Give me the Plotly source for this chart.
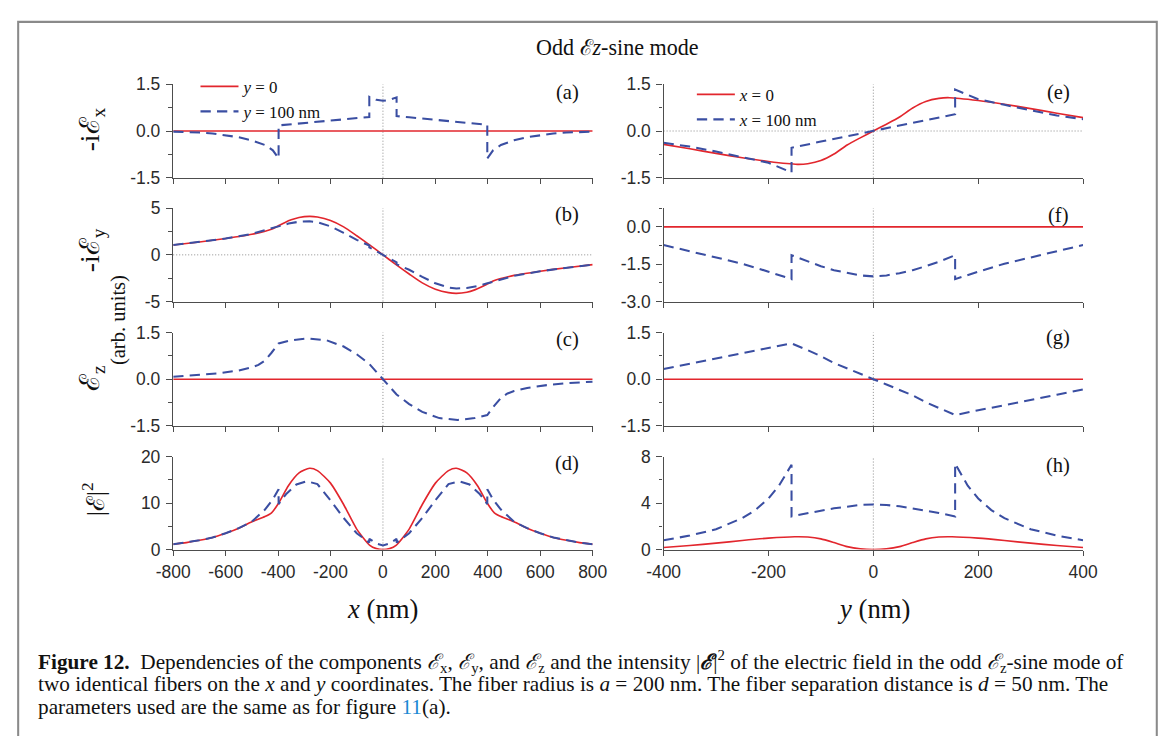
import plotly.graph_objects as go

# Measured on earlier renders: screen = OX + S0 * (8 + figure_px)  (8 = page body margin)
W, H = 1180, 738
S0 = 0.9741
OX, OY = 7.5, 1.3
def px(x): return ((x - OX) / S0 - 8) / W
def py(y): return 1 - ((y - OY) / S0 - 8) / H
def sz(v): return v / S0

RED = '#e2262d'
BLUE = '#3a4ea2'
AXC = '#4d4d4d'
TXT = '#2b2b2b'
SERIF = 'Liberation Serif, DejaVu Serif, serif'
SANS = 'Liberation Sans, Arial, sans-serif'

# ---------------- data: left column, x coordinate (nm) ----------------
# (a) -i E_x
a_red_x = [-800, -400, 0, 400, 800]
a_red_y = [0, 0, 0, 0, 0]
a_blue_x = [-800, -750, -700, -650, -600, -550, -500, -450, -420, -398, -398, -300, -200, -100, -52, -52,
            -25, 0, 25, 52, 52, 100, 200, 300, 398, 398, 420, 450, 500, 550, 600, 650, 700, 750, 800]
a_blue_y = [-0.02, -0.03, -0.05, -0.08, -0.13, -0.2, -0.3, -0.45, -0.62, -0.88, 0.18, 0.26, 0.34, 0.42, 0.45, 1.1,
            1.0, 0.97, 1.0, 1.08, 0.48, 0.44, 0.36, 0.28, 0.2, -0.88, -0.62, -0.45, -0.3, -0.2, -0.13, -0.08, -0.05, -0.03, -0.02]

# (b) -i E_y
b_red_x = [-800, -700, -600, -500, -425, -400, -375, -350, -320, -280, -250, -200, -150, -100, -50, 0,
           50, 100, 150, 200, 250, 280, 320, 350, 375, 400, 425, 500, 600, 700, 800]
b_red_y = [1.05, 1.38, 1.75, 2.2, 2.75, 3.1, 3.45, 3.75, 4.0, 4.12, 4.05, 3.68, 3.0, 2.05, 1.05, 0,
           -1.05, -2.05, -3.0, -3.68, -4.05, -4.12, -4.0, -3.75, -3.45, -3.1, -2.75, -2.2, -1.75, -1.38, -1.05]
b_blue_x = [-800, -700, -600, -500, -450, -425, -398, -360, -320, -280, -250, -200, -150, -100, -52, -52, 0,
            52, 52, 100, 150, 200, 250, 280, 320, 360, 398, 425, 450, 500, 600, 700, 800]
b_blue_y = [1.05, 1.38, 1.75, 2.25, 2.6, 2.85, 3.05, 3.35, 3.55, 3.6, 3.5, 3.05, 2.35, 1.6, 1.0, 0.8, 0,
            -0.8, -1.0, -1.6, -2.35, -3.05, -3.5, -3.6, -3.55, -3.35, -3.05, -2.85, -2.6, -2.25, -1.75, -1.38, -1.05]

# (c) E_z
c_red_x = [-800, -400, 0, 400, 800]
c_red_y = [0, 0, 0, 0, 0]
c_blue_x = [-800, -700, -625, -550, -500, -475, -450, -425, -398, -350, -285, -215, -150, -100, -52, 0,
            52, 100, 150, 215, 285, 350, 398, 425, 450, 475, 500, 550, 625, 700, 800]
c_blue_y = [0.08, 0.13, 0.19, 0.28, 0.38, 0.46, 0.6, 0.85, 1.15, 1.25, 1.31, 1.25, 1.05, 0.8, 0.49, 0,
            -0.49, -0.8, -1.05, -1.25, -1.31, -1.25, -1.15, -0.85, -0.6, -0.46, -0.38, -0.28, -0.19, -0.13, -0.08]

# (d) |E|^2
d_red_x = [-800, -750, -700, -650, -600, -550, -500, -450, -425, -400, -360, -320, -280, -250, -200, -150, -100, -50, -25, 0,
           25, 50, 100, 150, 200, 250, 280, 320, 360, 400, 425, 450, 500, 550, 600, 650, 700, 750, 800]
d_red_y = [1.15, 1.5, 2.0, 2.6, 3.5, 4.6, 6.0, 7.1, 7.9, 9.8, 13.8, 16.5, 17.5, 17.0, 14.3, 9.7, 4.4, 0.9, 0.2, 0,
           0.2, 0.9, 4.4, 9.7, 14.3, 17.0, 17.5, 16.5, 13.8, 9.8, 7.9, 7.1, 6.0, 4.6, 3.5, 2.6, 2.0, 1.5, 1.15]
d_blue_x = [-800, -750, -700, -650, -600, -550, -500, -450, -420, -398, -398, -370, -330, -290, -250, -200, -150, -100, -52, -52,
            -25, 0, 25, 52, 52, 100, 150, 200, 250, 290, 330, 370, 398, 398, 420, 450, 500, 550, 600, 650, 700, 750, 800]
d_blue_y = [1.15, 1.5, 2.0, 2.6, 3.5, 4.6, 6.0, 8.6, 10.8, 13.0, 9.8, 11.9, 14.0, 14.7, 14.1, 10.6, 6.8, 3.5, 1.5, 2.3,
            1.3, 0.9, 1.3, 2.3, 1.5, 3.5, 6.8, 10.6, 14.1, 14.7, 14.0, 11.9, 9.8, 13.0, 10.8, 8.6, 6.0, 4.6, 3.5, 2.6, 2.0, 1.5, 1.15]

# ---------------- data: right column, y coordinate (nm) ----------------
# (e) -i E_x
e_red_x = [-400, -350, -300, -250, -200, -145, -125, -100, -75, -50, -25, 0,
           25, 50, 75, 100, 125, 145, 200, 250, 300, 350, 400]
e_red_y = [-0.43, -0.57, -0.72, -0.86, -0.98, -1.07, -1.05, -0.95, -0.74, -0.45, -0.22, 0,
           0.22, 0.45, 0.74, 0.95, 1.05, 1.07, 0.98, 0.86, 0.72, 0.57, 0.43]
e_blue_x = [-400, -350, -300, -250, -200, -156, -156, -100, -50, 0, 50, 100, 156, 156, 200, 250, 300, 350, 400]
e_blue_y = [-0.38, -0.5, -0.66, -0.84, -1.02, -1.33, -0.54, -0.34, -0.17, 0,
            0.17, 0.34, 0.54, 1.33, 1.02, 0.84, 0.66, 0.5, 0.38]

# (f) -i E_y
f_red_x = [-400, -200, 0, 200, 400]
f_red_y = [0, 0, 0, 0, 0]
f_blue_x = [-400, -350, -300, -250, -200, -156, -156, -125, -100, -75, -50, -25, 0,
            25, 50, 75, 100, 125, 156, 156, 200, 250, 300, 350, 400]
f_blue_y = [-0.73, -0.98, -1.23, -1.48, -1.8, -2.1, -1.14, -1.4, -1.58, -1.74, -1.86, -1.95, -1.99,
            -1.95, -1.86, -1.74, -1.58, -1.4, -1.14, -2.1, -1.8, -1.48, -1.23, -0.98, -0.73]

# (g) E_z
g_red_x = [-400, -200, 0, 200, 400]
g_red_y = [0, 0, 0, 0, 0]
g_blue_x = [-400, -350, -300, -250, -200, -156, -125, -100, -75, -50, -25, 0,
            25, 50, 75, 100, 125, 156, 200, 250, 300, 350, 400]
g_blue_y = [0.33, 0.5, 0.67, 0.84, 1.0, 1.15, 0.93, 0.74, 0.52, 0.34, 0.17, 0,
            -0.17, -0.34, -0.52, -0.74, -0.93, -1.15, -1.0, -0.84, -0.67, -0.5, -0.33]

# (h) |E|^2
h_red_x = [-400, -350, -300, -250, -200, -150, -125, -100, -75, -50, -25, 0,
           25, 50, 75, 100, 125, 150, 200, 250, 300, 350, 400]
h_red_y = [0.18, 0.35, 0.55, 0.78, 0.98, 1.1, 1.08, 0.92, 0.6, 0.25, 0.06, 0,
           0.06, 0.25, 0.6, 0.92, 1.08, 1.1, 0.98, 0.78, 0.55, 0.35, 0.18]
h_blue_x = [-400, -350, -300, -250, -225, -200, -180, -156, -156, -125, -100, -75, -50, -25, 0,
            25, 50, 75, 100, 125, 156, 156, 180, 200, 225, 250, 300, 350, 400]
h_blue_y = [0.8, 1.2, 1.75, 2.7, 3.4, 4.4, 5.5, 7.3, 2.85, 3.15, 3.35, 3.55, 3.72, 3.84, 3.88,
            3.84, 3.72, 3.55, 3.35, 3.15, 2.85, 7.4, 5.5, 4.4, 3.4, 2.7, 1.75, 1.2, 0.8]

# ---------------- tick labels ----------------
x_left_ticks = [-800, -600, -400, -200, 0, 200, 400, 600, 800]
x_left_text = ['-800', '-600', '-400', '-200', '0', '200', '400', '600', '800']
x_right_ticks = [-400, -200, 0, 200, 400]
x_right_text = ['-400', '-200', '0', '200', '400']
y15_ticks = [-1.5, 0, 1.5]; y15_text = ['-1.5', '0.0', '1.5']; y15_minor = [-0.75, 0.75]
y5_ticks = [-5, 0, 5]; y5_text = ['-5', '0', '5']; y5_minor = [-2.5, 2.5]
y20_ticks = [0, 10, 20]; y20_text = ['0', '10', '20']; y20_minor = [5, 15]
y3_ticks = [-3, -1.5, 0]; y3_text = ['-3.0', '-1.5', '0.0']; y3_minor = [-2.25, -0.75, 0.75]
y8_ticks = [0, 4, 8]; y8_text = ['0', '4', '8']; y8_minor = [2, 6]

legend_names_left = ['<i>y</i> = 0', '<i>y</i> = 100 nm']
legend_names_right = ['<i>x</i> = 0', '<i>x</i> = 100 nm']

# ---------------- layout geometry (target screen pixels) ----------------
col_px = [(171.7, 591.7), (662.7, 1082.7)]
row_px = [(83.5, 177.0), (207.5, 301.0), (332.0, 425.5), (456.3, 549.3)]

panels = [
    ('(a)', 0, 0, (a_red_x, a_red_y), (a_blue_x, a_blue_y), [-1.5, 1.5], y15_ticks, y15_text, y15_minor, False),
    ('(b)', 0, 1, (b_red_x, b_red_y), (b_blue_x, b_blue_y), [-5, 5], y5_ticks, y5_text, y5_minor, True),
    ('(c)', 0, 2, (c_red_x, c_red_y), (c_blue_x, c_blue_y), [-1.5, 1.5], y15_ticks, y15_text, y15_minor, False),
    ('(d)', 0, 3, (d_red_x, d_red_y), (d_blue_x, d_blue_y), [0, 20], y20_ticks, y20_text, y20_minor, False),
    ('(e)', 1, 0, (e_red_x, e_red_y), (e_blue_x, e_blue_y), [-1.5, 1.5], y15_ticks, y15_text, y15_minor, True),
    ('(f)', 1, 1, (f_red_x, f_red_y), (f_blue_x, f_blue_y), [-3, 0.75], y3_ticks, y3_text, y3_minor, False),
    ('(g)', 1, 2, (g_red_x, g_red_y), (g_blue_x, g_blue_y), [-1.5, 1.5], y15_ticks, y15_text, y15_minor, False),
    ('(h)', 1, 3, (h_red_x, h_red_y), (h_blue_x, h_blue_y), [0, 8], y8_ticks, y8_text, y8_minor, False),
]
letter_pos = {'(a)': (566, 92), '(b)': (566, 214), '(c)': (566, 339), '(d)': (566, 463),
              '(e)': (1058, 92), '(f)': (1058, 215), '(g)': (1058, 337), '(h)': (1058, 465)}

fig = go.Figure()
layout = dict(width=W, height=H, autosize=False, margin=dict(l=0, r=0, t=0, b=0),
              paper_bgcolor='white', plot_bgcolor='white', showlegend=True)
shapes = []
annotations = []
TICKFONT = dict(family=SANS, size=sz(17), color=TXT)

for i, (letter, col, row, red, blue, yr, ytv, ytt, ymin, hdot) in enumerate(panels):
    sfx = '' if i == 0 else str(i + 1)
    xa, ya = 'x' + sfx, 'y' + sfx
    leg = 'legend' if letter == '(a)' else ('legend2' if letter == '(e)' else None)
    names = legend_names_left if col == 0 else legend_names_right
    fig.add_trace(go.Scatter(x=red[0], y=red[1], mode='lines', xaxis=xa, yaxis=ya,
                             line=dict(color=RED, width=sz(1.6), shape='spline', smoothing=0.6), name=names[0],
                             showlegend=leg is not None, legend=leg or 'legend', hoverinfo='skip'))
    fig.add_trace(go.Scatter(x=blue[0], y=blue[1], mode='lines', xaxis=xa, yaxis=ya,
                             line=dict(color=BLUE, width=sz(2), dash='%.1fpx,%.1fpx' % (sz(10), sz(6))), name=names[1],
                             showlegend=leg is not None, legend=leg or 'legend', hoverinfo='skip'))
    x0, x1 = col_px[col]
    yt, yb = row_px[row]
    bottom = row == 3
    layout['xaxis' + sfx] = dict(
        domain=[px(x0), px(x1)], anchor=ya, range=[-800, 800] if col == 0 else [-400, 400],
        tickmode='array', tickvals=x_left_ticks if col == 0 else x_right_ticks,
        ticktext=x_left_text if col == 0 else x_right_text, showticklabels=bottom,
        ticks='outside', ticklen=sz(5), tickwidth=sz(1.3), tickcolor=AXC,
        showline=True, linecolor=AXC, linewidth=sz(1.4), showgrid=False, zeroline=False,
        tickfont=TICKFONT, ticklabelstandoff=1, fixedrange=True)
    layout['yaxis' + sfx] = dict(
        domain=[py(yb), py(yt)], anchor=xa, range=yr,
        tickmode='array', tickvals=ytv, ticktext=ytt,
        ticks='outside', ticklen=sz(6), tickwidth=sz(1.3), tickcolor=AXC,
        minor=dict(tickmode='array', tickvals=ymin, ticks='outside', ticklen=sz(3.5), tickwidth=sz(1.2), tickcolor=AXC),
        showline=True, linecolor=AXC, linewidth=sz(1.4), showgrid=False, zeroline=False,
        tickfont=TICKFONT, ticklabelstandoff=2, fixedrange=True)
    shapes.append(dict(type='line', xref=xa, yref=ya + ' domain', x0=0, x1=0, y0=0, y1=1,
                       line=dict(color='#8c8c8c', width=1, dash='1px,2px'), layer='below'))
    if hdot:
        shapes.append(dict(type='line', xref=xa + ' domain', yref=ya, x0=0, x1=1, y0=0, y1=0,
                           line=dict(color='#8c8c8c', width=1, dash='1px,2px'), layer='below'))
    lx, ly = letter_pos[letter]
    annotations.append(dict(text=letter, x=px(lx), y=py(ly), xref='paper', yref='paper',
                            xanchor='center', yanchor='middle', showarrow=False,
                            font=dict(family=SERIF, size=sz(20), color='#111')))

# legends (plotly puts the first entry ~16px below the legend top)
LEGFONT = dict(family=SERIF, size=sz(16.5), color='#111')
layout['legend'] = dict(x=px(194), y=py(68), xanchor='left', yanchor='top', bgcolor='rgba(0,0,0,0)',
                        borderwidth=0, font=LEGFONT, itemwidth=38, tracegroupgap=0)
layout['legend2'] = dict(x=px(691), y=py(76), xanchor='left', yanchor='top', bgcolor='rgba(0,0,0,0)',
                         borderwidth=0, font=LEGFONT, itemwidth=38, tracegroupgap=0)

# title
annotations.append(dict(text='Odd ℰ<i>z</i>-sine mode', x=px(617), y=py(47), xref='paper', yref='paper',
                        xanchor='center', yanchor='middle', showarrow=False,
                        font=dict(family=SERIF, size=sz(21.5), color='#111')))

# axis titles
def rot(text, x, y, size):
    annotations.append(dict(text=text, x=px(x), y=py(y), xref='paper', yref='paper', textangle=-90,
                            xanchor='center', yanchor='middle', showarrow=False,
                            font=dict(family=SERIF, size=sz(size), color='#111')))
rot('-iℰ<sub>x</sub>', 90, 129, 27)
rot('-iℰ<sub>y</sub>', 90, 250, 27)
rot('(arb. units)', 117, 320, 20)
rot('ℰ<sub>z</sub>', 90, 378, 27)
rot('|ℰ|<sup>2</sup>', 92, 499, 24)

for text, x in [('<i>x</i> (nm)', 381.5), ('<i>y</i> (nm)', 872.7)]:
    annotations.append(dict(text=text, x=px(x), y=py(609), xref='paper', yref='paper',
                            xanchor='center', yanchor='middle', showarrow=False,
                            font=dict(family=SERIF, size=sz(26), color='#111')))

# caption
caption = [
    '<b>Figure 12.</b>  Dependencies of the components <i>ℰ</i><sub>x</sub>, <i>ℰ</i><sub>y</sub>, and <i>ℰ</i><sub>z</sub> '
    'and the intensity |<b><i>ℰ</i></b>|<sup>2</sup> of the electric field in the odd <i>ℰ</i><sub>z</sub>-sine mode of',
    'two identical fibers on the <i>x</i> and <i>y</i> coordinates. The fiber radius is <i>a</i> = 200 nm. '
    'The fiber separation distance is <i>d</i> = 50 nm. The',
    'parameters used are the same as for figure <span style="color:#1a8ad4">11</span>(a).',
]
for k, line in enumerate(caption):
    annotations.append(dict(text=line, x=px(34), y=py(661 + 23 * k), xref='paper', yref='paper',
                            xanchor='left', yanchor='middle', showarrow=False, align='left',
                            font=dict(family=SERIF, size=sz(20.7), color='#111')))

# figure frame (the page margin hides anything left of ~16 px on screen)
shapes.append(dict(type='rect', xref='paper', yref='paper', x0=1.2 / W, x1=px(1156.5), y0=py(790), y1=py(21),
                   line=dict(color='#8a8a8a', width=sz(2)), fillcolor='rgba(0,0,0,0)', layer='above'))

layout['shapes'] = shapes
layout['annotations'] = annotations
fig.update_layout(**layout)
fig.write_html('out.html')
